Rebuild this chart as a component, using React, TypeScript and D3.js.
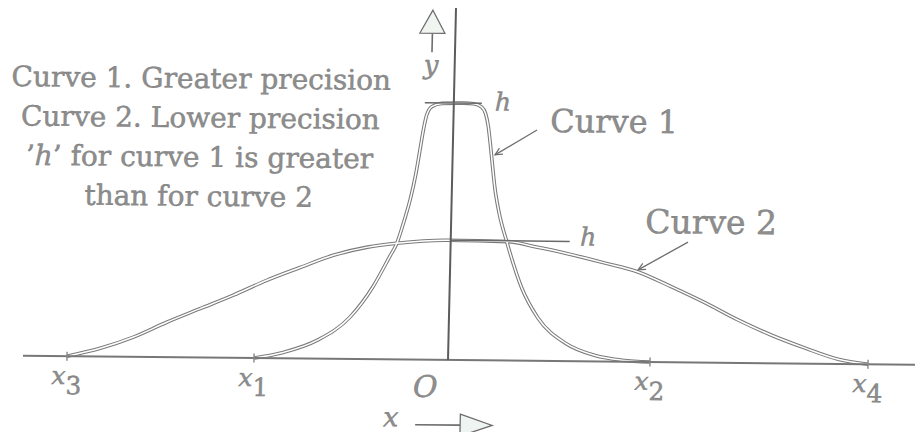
import React from 'react';
import * as d3 from 'd3';

const WIDTH = 915;
const HEIGHT = 432;

// Tick positions on the x axis (O sits at 0).
const tickValues = [-3.81, -1.94, 2.02, 4.2];
const tickSubscripts = ['3', '1', '2', '4'];

// Curve 1: sharp, flat-topped peak (greater precision).
const curve1: [number, number][] = [
  [-1.94, 0], [-1.65, 0.023], [-1.31, 0.072], [-0.99, 0.163], [-0.77, 0.28],
  [-0.6, 0.405], [-0.54, 0.45], [-0.47, 0.54], [-0.41, 0.63], [-0.365, 0.72],
  [-0.33, 0.81], [-0.3, 0.89], [-0.27, 0.95], [-0.22, 0.985], [-0.12, 0.998],
  [0.1, 1.0], [0.2, 0.998], [0.28, 0.985], [0.32, 0.96], [0.35, 0.91],
  [0.375, 0.84], [0.4, 0.76], [0.43, 0.67], [0.48, 0.57], [0.56, 0.463],
  [0.72, 0.284], [0.89, 0.167], [1.17, 0.07], [1.47, 0.023], [1.74, 0.006],
  [2.02, 0],
];

// Curve 2: broad, low peak (lower precision).
const curve2: [number, number][] = [
  [-3.81, 0], [-3.48, 0.032], [-3.15, 0.077], [-2.82, 0.136], [-2.49, 0.19],
  [-2.16, 0.244], [-1.83, 0.303], [-1.5, 0.354], [-1.17, 0.403], [-0.83, 0.436],
  [-0.54, 0.452], [-0.04, 0.466], [0.57, 0.463], [0.87, 0.442], [1.15, 0.42],
  [1.55, 0.383], [1.88, 0.35], [2.22, 0.293], [2.56, 0.232], [2.89, 0.167],
  [3.23, 0.109], [3.57, 0.06], [3.9, 0.018], [4.2, 0],
];

// Horizontal extents of the "h" markers at each peak.
const hSpans: [number, number][] = [[-0.29, 0.28], [0, 1.19]];
const hLabelX = [0.41, 1.294];

// Leader lines from the curve names to the curves.
const curveNames = ['Curve 1', 'Curve 2'];
const curveNamePos: [number, number][] = [[0.968, 0.891], [1.94, 0.502]];
const curveNameSize = [32, 33];
const leaderFrom: [number, number][] = [[0.838, 0.898], [2.373, 0.468]];
const leaderTo: [number, number][] = [[0.423, 0.8], [1.88, 0.358]];

const noteLines = [
  'Curve 1. Greater precision',
  'Curve 2. Lower precision',
  '\u2019h\u2019 for curve 1 is greater',
  'than for curve 2',
];

const INK = '#6e6e6e';
const TEXT_FILL = '#8e8e8e';
const SERIF = '"DejaVu Serif", serif';

export default function App() {
  const xScale = d3.scaleLinear().domain([-4.25, 4.75]).range([23, 923]);
  const yScale = d3.scaleLinear().domain([0, 1]).range([360, 103]);

  const line = d3
    .line<[number, number]>()
    .x((d) => xScale(d[0]))
    .y((d) => yScale(d[1]))
    .curve(d3.curveMonotoneX);

  const curves = [curve1, curve2];
  const peaks = curves.map((c) => d3.max(c, (d) => d[1]) as number);

  const x0 = xScale(0);
  const y0 = yScale(0);

  // slight skew of the whole drawing, pivoting on the origin
  const frame = `translate(${x0},${y0}) matrix(1,0.01,-0.0227,1,0,0) translate(${-x0},${-y0})`;

  const arrowHead = (from: [number, number], to: [number, number]) => {
    const fx = xScale(from[0]);
    const fy = yScale(from[1]);
    const tx = xScale(to[0]);
    const ty = yScale(to[1]);
    const ang = Math.atan2(ty - fy, tx - fx);
    const len = 8;
    const spread = 0.45;
    const p1 = [tx - len * Math.cos(ang - spread), ty - len * Math.sin(ang - spread)];
    const p2 = [tx - len * Math.cos(ang + spread), ty - len * Math.sin(ang + spread)];
    return `M${p1[0]},${p1[1]}L${tx},${ty}L${p2[0]},${p2[1]}`;
  };

  const textStyle = {
    fontFamily: SERIF,
    fill: TEXT_FILL,
    stroke: '#747474',
    strokeWidth: 0.4,
  } as const;

  const yTop = yScale(1.37);
  const yArrowX = xScale(-0.23);

  return (
    <svg
      width={WIDTH}
      height={HEIGHT}
      style={{ position: 'absolute', left: 0, top: 0, background: '#fff' }}
    >
      <g transform={frame}>
        {/* explanatory notes */}
        <text textAnchor="middle" fontSize={28} {...textStyle}>
          {noteLines.map((t, i) =>
            i === 2 ? (
              <tspan key={i} x={195} y={90.5 + i * 39.3}>
                {'\u2019'}
                <tspan fontStyle="italic">h</tspan>
                {t.slice(2)}
              </tspan>
            ) : (
              <tspan key={i} x={195} y={90.5 + i * 39.3}>
                {t}
              </tspan>
            )
          )}
        </text>

        {/* curves drawn as hollow double strokes */}
        {curves.map((c, i) => (
          <path key={`o${i}`} d={line(c) ?? ''} fill="none" stroke="#7a7a7a" strokeWidth={3.6} />
        ))}
        {curves.map((c, i) => (
          <path key={`i${i}`} d={line(c) ?? ''} fill="none" stroke="#fff" strokeWidth={1.5} />
        ))}

        {/* x axis */}
        <line
          x1={xScale(-4.25)}
          x2={xScale(4.75)}
          y1={y0}
          y2={y0}
          stroke="#777"
          strokeWidth={2}
        />
        {tickValues.map((v, i) => (
          <g key={i}>
            <line x1={xScale(v)} x2={xScale(v)} y1={y0 - 4.5} y2={y0 + 4.5} stroke="#888" strokeWidth={1.4} />
            <text x={xScale(v)} y={y0 + 28} textAnchor="middle" fontSize={25} {...textStyle}>
              <tspan fontStyle="italic">x</tspan>
              <tspan dy={10}>{tickSubscripts[i]}</tspan>
            </text>
          </g>
        ))}
        <text
          x={xScale(-0.222)}
          y={y0 + 37}
          textAnchor="middle"
          fontSize={30}
          fontStyle="italic"
          {...textStyle}
        >
          O
        </text>

        {/* x direction arrow */}
        <text x={xScale(-0.634)} y={y0 + 67} fontSize={27} fontStyle="italic" {...textStyle}>
          x
        </text>
        <line x1={xScale(-0.314)} x2={xScale(0.136)} y1={y0 + 65} y2={y0 + 65} stroke={INK} strokeWidth={1.6} />
        <path
          d={`M${xScale(0.136)},${y0 + 54}L${xScale(0.456)},${y0 + 65}L${xScale(0.136)},${y0 + 76}Z`}
          fill="#eef4f1"
          stroke={INK}
          strokeWidth={1.3}
        />

        {/* y axis */}
        <line x1={x0} x2={x0} y1={y0} y2={yTop} stroke="#5c5c5c" strokeWidth={2} />
        <path
          d={`M${yArrowX},${yTop + 2.5}L${yArrowX + 12.5},${yTop + 25.5}L${yArrowX - 12.5},${yTop + 25.5}Z`}
          fill="#f1f5f1"
          stroke={INK}
          strokeWidth={1.3}
        />
        <line x1={yArrowX} x2={yArrowX} y1={yTop + 25.5} y2={yTop + 44.5} stroke={INK} strokeWidth={1.6} />
        <text x={xScale(-0.31)} y={yTop + 66} fontSize={26} fontStyle="italic" {...textStyle}>
          y
        </text>

        {/* h markers at the peaks */}
        {hSpans.map((s, i) => (
          <g key={i}>
            <line
              x1={xScale(s[0])}
              x2={xScale(s[1])}
              y1={yScale(peaks[i])}
              y2={yScale(peaks[i])}
              stroke="#6a6a6a"
              strokeWidth={1.5}
            />
            <text
              x={xScale(hLabelX[i])}
              y={yScale(peaks[i]) + (i === 0 ? 7 : 4)}
              fontSize={25}
              fontStyle="italic"
              {...textStyle}
            >
              h
            </text>
          </g>
        ))}

        {/* curve names with leaders */}
        {curveNames.map((name, i) => (
          <g key={name}>
            <text
              x={xScale(curveNamePos[i][0])}
              y={yScale(curveNamePos[i][1])}
              fontSize={curveNameSize[i]}
              {...textStyle}
            >
              {name}
            </text>
            <line
              x1={xScale(leaderFrom[i][0])}
              y1={yScale(leaderFrom[i][1])}
              x2={xScale(leaderTo[i][0])}
              y2={yScale(leaderTo[i][1])}
              stroke={INK}
              strokeWidth={1.3}
            />
            <path d={arrowHead(leaderFrom[i], leaderTo[i])} fill="none" stroke={INK} strokeWidth={1.2} />
          </g>
        ))}
      </g>
    </svg>
  );
}
